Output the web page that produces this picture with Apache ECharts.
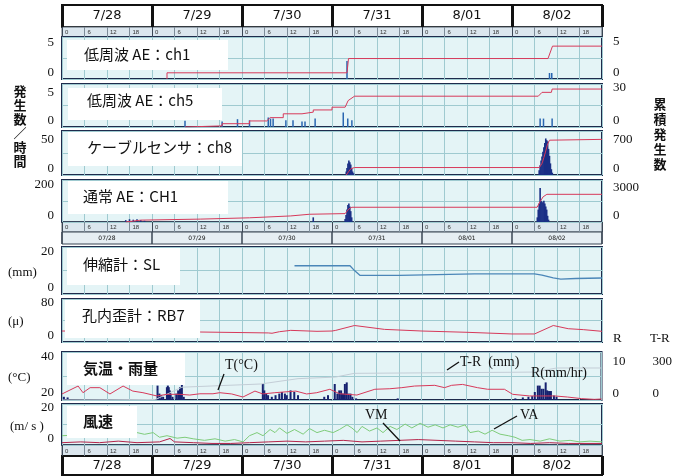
<!DOCTYPE html>
<html>
<head>
<meta charset="utf-8">
<script src="https://cdn.jsdelivr.net/npm/echarts@6/dist/echarts.min.js"></script>
<style>
  html, body { margin: 0; padding: 0; background: #fff; }
  #chart { width: 675px; height: 476px; }
</style>
</head>
<body>
<div id="chart"></div>
<script>
// hours are counted from 7/28 0:00 (x = 0 .. 144)
const days = ['7/28', '7/29', '7/30', '7/31', '8/01', '8/02'];
const daysShort = ['07/28', '07/29', '07/30', '07/31', '08/01', '08/02'];

// 低周波 AE ch1
const ch1Count = [[76, 3], [130, 1], [130.6, 1]];
const ch1Total = [[28, 0], [28, 1], [76, 1], [76.4, 3.3], [129.6, 3.3], [130.8, 5.3], [144, 5.3]];

// 低周波 AE ch5
const ch5Count = [[32.8, 1.1], [42.7, 1], [46.8, 1.4], [50, 1.2], [55, 1.7], [55.6, 1.5], [56.3, 1.5],
  [59.7, 1.2], [61.6, 1.2], [64, 1], [64.8, 1], [67.5, 1.5], [75, 2.6], [76.2, 1.5], [77.3, 1.2],
  [127.5, 1.5], [128.4, 1.5], [130.7, 1.5]];
const ch5Total = [[32.8, 0], [32.8, 1], [42.7, 1], [42.7, 3], [50, 3], [50, 5.5], [54.6, 5.5], [55.5, 8.5],
  [59, 8.5], [59, 12], [64, 12], [64, 13.5], [67, 13.5], [67, 15.5], [72, 15.5], [72, 18], [75.5, 18],
  [76.3, 24], [78, 28], [127, 28], [128, 31.5], [130.5, 31.5], [130.7, 34.5], [144, 34.5]];

// ケーブルセンサ ch8
const ch8Count = [[75.8, 6], [76, 12], [76.25, 20], [76.5, 25], [76.75, 22], [77, 18], [77.25, 12], [77.5, 6], [77.75, 3],
  [127.25, 8], [127.5, 17], [127.75, 25], [128, 32], [128.25, 40], [128.5, 48], [128.75, 55], [129, 63],
  [129.25, 60], [129.5, 58], [129.75, 45], [130, 33], [130.25, 20], [130.5, 10], [130.75, 4]];
const ch8Total = [[75.8, 0], [76, 30], [76.5, 90], [77, 150], [77.5, 175], [78, 180], [127.3, 180], [128, 280],
  [128.5, 420], [129, 580], [129.5, 750], [130, 840], [130.5, 860], [144, 860]];

// 通常 AE CH1
const aeCount = [[17, 12], [18, 18], [19, 15], [20, 18], [21, 12], [22, 8], [67, 30],
  [75.5, 20], [75.75, 45], [76, 80], [76.25, 110], [76.5, 119], [76.75, 100], [77, 70], [77.25, 30],
  [126.75, 30], [127, 80], [127.25, 120], [127.5, 220], [127.75, 137], [128, 130], [128.25, 125],
  [128.5, 137], [128.75, 120], [129, 100], [129.25, 80], [129.5, 40], [129.75, 15]];
const aeTotal = [[17, 0], [17.5, 30], [21, 200], [37, 310], [50, 450], [61, 650], [66, 830], [75.5, 900],
  [76, 1100], [76.5, 1400], [77.3, 1580], [126.7, 1580], [127.5, 2200], [128.3, 2700], [129.3, 2965], [144, 2965]];

// 伸縮計 SL (mm)
const slData = [[62, 15.7], [76.8, 15.7], [78, 13], [79.5, 10.3], [90, 10.3], [100, 10.8], [110, 11.2],
  [126, 11.2], [128, 10.5], [131, 9], [133, 8.3], [137, 8.6], [144, 8.9]];

// 孔内歪計 RB7
const rbData = [[0, 26.6], [20, 26], [37, 24.2], [55, 22], [56, 21.2], [58, 25], [61, 28.2], [68, 25.9],
  [72, 26.6], [73, 28.2], [78, 40], [86, 30.6], [96, 26.6], [108, 23.5], [120, 19.5], [126, 19.5],
  [131, 40], [135, 32.2], [139, 30], [144, 25.9]];

// 気温 T (°C)
const tempData = [[0, 22.8], [4.3, 27.2], [5.6, 23.5], [7.5, 26.3], [10.1, 26.3], [12.8, 22.8], [16.3, 27.2],
  [18.9, 24.4], [21.6, 23.5], [25.3, 21.7], [28, 22.6], [31.5, 22.6], [34.1, 22.2], [36.8, 22.9], [40.3, 22.9],
  [42.1, 23.5], [45.3, 22.8], [48.3, 21.1], [51.5, 24.4], [53.6, 22.8], [56.8, 23.5], [62.4, 24.4], [65.3, 22.8],
  [68, 23.5], [71.5, 25.4], [74.1, 22.9], [78.7, 22.2], [83.5, 25.4], [87.5, 25.7], [90.7, 26.3], [94.1, 27.2],
  [99.5, 27.6], [102.1, 26.3], [104, 27.6], [106.9, 28.1], [110.9, 26.3], [113.6, 25.4], [118.1, 25.4],
  [120.3, 22.6], [124.8, 21.7], [131.5, 21.7], [134.9, 21.1], [138.7, 20.2], [142.1, 19.8], [144, 20]];

// 雨量 R (mm/hr)
const rainData = [[0.5, 1], [1.5, 0.8], [25.5, 4.5], [26, 2], [26.5, 1.5], [27, 1], [28, 4], [28.25, 4.5],
  [28.5, 4], [28.75, 3], [29, 2], [29.5, 1], [30.5, 2], [31, 3], [31.5, 4], [32, 5], [32.5, 1],
  [53.6, 5], [54, 3], [54.5, 2], [55, 1.5], [56, 1], [57, 1.5], [58, 2], [58.7, 2.5], [59.5, 2], [60, 1.5],
  [61, 3], [62, 2.5], [63, 1.5], [70, 1], [71, 1.5], [72.8, 5], [73.5, 2], [74, 3], [74.5, 3], [75, 2],
  [75.5, 5], [76, 5.5], [76.5, 2], [77, 2], [77.5, 1], [78.5, 0.5], [89.6, 0.5],
  [121, 0.5], [123, 0.8], [124.5, 1], [125.5, 1.2], [126.2, 2.5], [127, 4.5], [127.5, 4.5], [128, 3.5],
  [128.5, 3.5], [129.1, 5.5], [129.5, 3], [130, 2.8], [130.5, 2.8], [131.3, 1.4], [132, 1]];
// 累積雨量 T-R (mm)
const rainTotal = [[0, 0], [25, 5], [32, 120], [53, 150], [63, 200], [73, 215], [78, 250], [120, 260],
  [126, 262], [132, 300], [144, 300]];

// 風速 VA / VM (m/s)
const vaData = [[0, 6], [10, 7], [20, 8], [22, 6.9], [24.3, 8], [26, 5], [28, 6], [30.7, 4.4], [32.8, 5],
  [35, 4], [38, 3], [40.8, 4], [43.5, 2.5], [46, 3.5], [48.3, 2], [50, 6], [52, 8], [53.6, 6], [55.5, 10],
  [56.8, 8], [58, 11], [60, 7.5], [62, 10], [64.3, 7], [66, 10.6], [68, 8], [70, 9.5], [72.3, 8], [74, 10],
  [76, 13], [77.3, 11], [78.7, 8], [80, 12], [82, 9], [84, 11], [85.6, 8], [87.5, 12], [89.3, 10],
  [91.5, 13.5], [93.3, 11], [95.5, 14], [97.6, 11.5], [99.5, 13], [101.6, 11], [103.5, 13], [105.6, 11.5],
  [107.5, 13], [108.8, 8], [111, 9], [112.8, 7], [114.7, 9.5], [116.8, 7], [119, 6], [120.8, 5],
  [122.7, 3], [124.8, 3.5], [127.5, 2.5], [130, 4], [132.8, 2.5], [135.5, 3], [138, 2], [140.8, 2.5], [144, 2]];
const vmData = [[0, 1.5], [5, 2], [10, 1.5], [15, 2.5], [20, 1.5], [26, 2], [28.8, 4.2], [30, 2], [35, 1.5],
  [40, 1], [45, 1], [50, 1.5], [55, 2], [60, 2.5], [65, 2], [70, 2.5], [75, 3], [80, 2], [85, 2.5],
  [90, 3], [95, 3.5], [100, 3], [105, 2.5], [110, 2], [115, 1.5], [120, 1.5], [125, 1], [130, 1.5],
  [135, 1], [140, 1], [144, 1]];

const X0 = 62;
const X1 = 602;
const W = 675;
const SERIF = 'Liberation Serif';
const JP = '"Noto Sans CJK JP"';
const RED = '#d7395a';
const GRIDLINE = '#9fcad0';

const grids = [];
const xAxes = [];
const yAxes = [];
const series = [];
const graphic = [];

const addGrid = (top, bottom, style) => {
  grids.push({ left: X0, right: W - X1, top, height: bottom - top, show: true, ...style });
  return grids.length - 1;
};

const panelGrid = (top, bottom) =>
  addGrid(top, bottom, { backgroundColor: '#e4f4f6', borderColor: '#1e2b4c', borderWidth: 2 });

// hours axis of a panel, vertical lines every 6h
const panelX = (g) => {
  xAxes.push({
    gridIndex: g, type: 'value', min: 0, max: 144, interval: 6,
    axisLine: { show: false }, axisTick: { show: false }, axisLabel: { show: false },
    splitLine: { lineStyle: { color: GRIDLINE, width: 1 } },
  });
  return xAxes.length - 1;
};

// value axis calibrated from two labels: [value, pixel y of label bottom]
const valueAxis = (g, top, bottom, a, b, opts = {}) => {
  const ppu = (a[1] - b[1]) / (b[0] - a[0]);
  const min = a[0] - (bottom - a[1]) / ppu;
  const max = b[0] + (b[1] - top) / ppu;
  const right = opts.position === 'right';
  yAxes.push({
    gridIndex: g, type: 'value', min, max,
    position: opts.position || 'left', offset: opts.offset || 0,
    axisLine: { show: false }, axisTick: { show: false }, splitLine: { show: false },
    axisLabel: {
      customValues: [a[0], b[0]],
      formatter: (v) => (v === a[0] || v === b[0] ? String(v) : ''),
      fontFamily: SERIF, fontSize: 13, color: '#111',
      verticalAlign: 'bottom', align: right ? 'left' : 'right', margin: right ? 11 : 8,
    },
  });
  return yAxes.length - 1;
};

// invisible axis that only draws the horizontal middle line (also used for the header rows)
const plainY = (g, lines) => {
  yAxes.push({
    gridIndex: g, type: 'value', min: 0, max: 2, interval: 1,
    axisLine: { show: false }, axisTick: { show: false }, axisLabel: { show: false },
    splitLine: { show: lines, lineStyle: { color: GRIDLINE, width: 1 } },
  });
};

const addLine = (x, y, data, color, width = 1, extra = {}) => {
  series.push({
    type: 'line', xAxisIndex: x, yAxisIndex: y, data, symbol: 'none',
    lineStyle: { color, width }, itemStyle: { color }, animation: false, z: 4, ...extra,
  });
};

const addBars = (x, y, data, color, width = 1.5) => {
  series.push({
    type: 'bar', xAxisIndex: x, yAxisIndex: y, data, barWidth: width,
    itemStyle: { color }, animation: false, z: 3,
  });
};

// hour tick rows "0 6 12 18"
const tickRow = (top, bottom) => {
  const g = addGrid(top, bottom, { backgroundColor: '#dbe6ee', borderColor: '#56636f', borderWidth: 1 });
  xAxes.push({
    gridIndex: g, type: 'value', min: 0, max: 144, interval: 6,
    axisLine: { show: false }, axisTick: { show: false },
    splitLine: { lineStyle: { color: ['#3a4654', '#7d8c99', '#7d8c99', '#7d8c99'], width: 1 } },
    axisLabel: {
      inside: true, margin: 5, fontSize: 6, color: '#333', align: 'left', verticalAlign: 'middle',
      padding: [0, 0, 0, 3], formatter: (v) => (v >= 144 ? '' : String(v % 24)),
    },
  });
  plainY(g, false);
};

// day rows
const dateRow = (top, bottom, labels, size, style, lineW) => {
  const g = addGrid(top, bottom, style);
  xAxes.push({
    gridIndex: g, type: 'category', data: labels, boundaryGap: true,
    axisLine: { show: false }, axisTick: { show: false },
    splitLine: { show: true, interval: 0, lineStyle: { color: style.borderColor, width: lineW } },
    axisLabel: {
      inside: true, interval: 0, margin: (bottom - top) / 2, verticalAlign: 'middle',
      fontSize: size, fontFamily: 'DejaVu Sans', color: '#111',
    },
  });
  plainY(g, false);
};

const labelBox = (x, y, w, h, text, tx, ty, bold) => {
  graphic.push({ type: 'rect', shape: { x, y, width: w, height: h }, style: { fill: '#fff' }, z: 100 });
  graphic.push({
    type: 'text', x: tx, y: ty, z: 101,
    style: { text, font: `${bold ? 'bold ' : ''}15px ${JP}`, fill: '#111', textVerticalAlign: 'middle' },
  });
};

const note = (text, x, y, size = 14) => {
  graphic.push({
    type: 'text', x, y, z: 101,
    style: { text, font: `${size}px "${SERIF}"`, fill: '#111', textVerticalAlign: 'middle' },
  });
};

const pointer = (x1, y1, x2, y2) => {
  graphic.push({ type: 'line', shape: { x1, y1, x2, y2 }, style: { stroke: '#111', lineWidth: 1.3 }, z: 101 });
};

// header
dateRow(5, 27, days, 13, { backgroundColor: '#fff', borderColor: '#111', borderWidth: 2 }, 3);
tickRow(27, 37);

// 低周波 AE ch1
let g = panelGrid(37, 79);
let x = panelX(g);
let yl = valueAxis(g, 37, 79, [0, 79], [5, 49]);
let yr = valueAxis(g, 37, 79, [0, 79], [5, 48], { position: 'right' });
plainY(g, true);
addBars(x, yl, ch1Count, '#2a66b0');
addLine(x, yr, ch1Total, RED);

// 低周波 AE ch5
g = panelGrid(84, 127);
x = panelX(g);
yl = valueAxis(g, 84, 127, [0, 127], [5, 99]);
yr = valueAxis(g, 84, 127, [0, 127], [30, 94], { position: 'right' });
plainY(g, true);
addBars(x, yl, ch5Count, '#2a66b0');
addLine(x, yr, ch5Total, RED);

// ケーブルセンサ ch8
g = panelGrid(131, 175);
x = panelX(g);
yl = valueAxis(g, 131, 175, [0, 175], [50, 146]);
yr = valueAxis(g, 131, 175, [0, 175], [700, 146], { position: 'right' });
plainY(g, true);
addBars(x, yl, ch8Count, '#1a2f86', 1.6);
addLine(x, yr, ch8Total, RED);

// 通常 AE CH1
g = panelGrid(180, 222);
x = panelX(g);
yl = valueAxis(g, 180, 222, [0, 222], [200, 191]);
yr = valueAxis(g, 180, 222, [0, 222], [3000, 194], { position: 'right' });
plainY(g, true);
addBars(x, yl, aeCount, '#1a2f86', 1.6);
addLine(x, yr, aeTotal, RED);

tickRow(222, 232);
dateRow(232, 244, daysShort, 6, { backgroundColor: '#e6eef3', borderColor: '#3a4654', borderWidth: 1 }, 1.5);

// 伸縮計 SL
g = panelGrid(247, 294);
x = panelX(g);
yl = valueAxis(g, 247, 294, [0, 294], [20, 258]);
plainY(g, true);
addLine(x, yl, slData, '#4b86b8', 1.3);

// 孔内歪計 RB7
g = panelGrid(299, 342);
x = panelX(g);
yl = valueAxis(g, 299, 342, [0, 342], [80, 309]);
plainY(g, true);
addLine(x, yl, rbData, RED);

// 気温・雨量
g = panelGrid(352, 400);
x = panelX(g);
yl = valueAxis(g, 352, 400, [20, 399], [40, 363]);
yr = valueAxis(g, 352, 400, [0, 400], [10, 368], { position: 'right' });
const ytr = valueAxis(g, 352, 400, [0, 400], [300, 368], { position: 'right', offset: 40 });
plainY(g, true);
addLine(x, ytr, rainTotal, '#c3cdd6', 1);
addBars(x, yr, rainData, '#16216f', 2);
addLine(x, yl, tempData, RED);

// 風速
g = panelGrid(404, 445);
x = panelX(g);
yl = valueAxis(g, 404, 445, [0, 445], [20, 414]);
plainY(g, true);
addLine(x, yl, vaData, '#7fcc7a');
addLine(x, yl, vmData, '#b5234a');

tickRow(445, 456);
dateRow(456, 475, days, 13, { backgroundColor: '#fff', borderColor: '#111', borderWidth: 2 }, 3);

// panel titles
labelBox(67, 40, 161, 30, '低周波 AE：ch1', 84, 54);
labelBox(68, 88, 154, 32, '低周波 AE：ch5', 87, 100);
labelBox(68, 132, 174, 34, 'ケーブルセンサ：ch8', 87, 147);
labelBox(68, 181, 160, 33, '通常 AE：CH1', 83, 196);
labelBox(67, 248, 113, 37, '伸縮計：SL', 83, 264);
labelBox(65, 300, 135, 38, '孔内歪計：RB7', 82, 315);
labelBox(67, 353, 118, 32, '気温・雨量', 83, 368, true);
labelBox(67, 406, 70, 32, '風速', 83, 421, true);

// units and side captions
note('(mm)', 8, 273, 13);
note('(μ)', 8, 322, 13);
note('(°C)', 8, 378, 13);
note('(m/ s )', 10, 427, 13);
note('R', 613, 339, 13);
note('T-R', 650, 339, 13);
graphic.push({
  type: 'text', x: 20, y: 84, z: 101,
  style: { text: '発\n生\n数\n／\n時\n間', font: `bold 13px ${JP}`, lineHeight: 14, fill: '#111', textAlign: 'center' },
});
graphic.push({
  type: 'text', x: 660, y: 97, z: 101,
  style: { text: '累\n積\n発\n生\n数', font: `bold 13px ${JP}`, lineHeight: 15, fill: '#111', textAlign: 'center' },
});

// annotations
note('T(°C)', 225, 365);
pointer(224, 374, 218, 390);
note('T-R  (mm)', 460, 362);
pointer(459, 362, 447, 370);
note('R(mm/hr)', 531, 373);
note('VM', 365, 415);
pointer(383, 423, 400, 441);
note('VA', 520, 415);
pointer(517, 416, 494, 429);

const chart = echarts.init(document.getElementById('chart'));
chart.setOption({
  animation: false,
  grid: grids,
  xAxis: xAxes,
  yAxis: yAxes,
  series,
  graphic,
});
</script>
</body>
</html>
